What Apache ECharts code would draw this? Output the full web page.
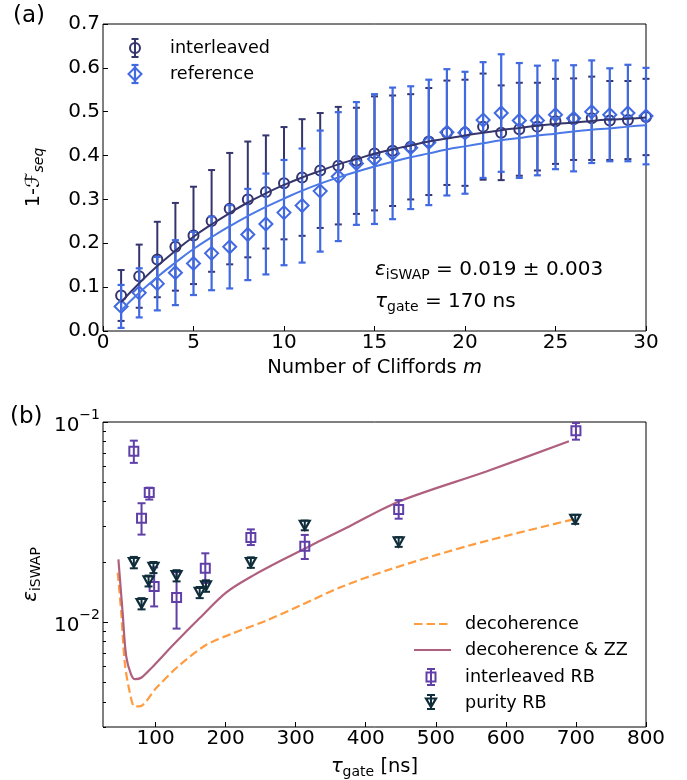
<!DOCTYPE html>
<html>
<head>
<meta charset="utf-8">
<script src="https://cdn.jsdelivr.net/npm/echarts@6/dist/echarts.min.js"></script>
<style>
  html, body { margin: 0; padding: 0; background: #fff; }
  #chart { width: 687px; height: 780px; }
</style>
</head>
<body>
<div id="chart"></div>
<script>
// ---- Panel (a): randomized benchmarking decay ----
const cliffords = [1, 2, 3, 4, 5, 6, 7, 8, 9, 10, 11, 12, 13, 14, 15,
                   16, 17, 18, 19, 20, 21, 22, 23, 24, 25, 26, 27, 28, 29, 30];
const interleavedMean = [0.081, 0.125, 0.163, 0.192, 0.218, 0.251, 0.279, 0.300, 0.317, 0.337,
                         0.350, 0.366, 0.377, 0.388, 0.405, 0.411, 0.420, 0.432, 0.452, 0.452,
                         0.466, 0.452, 0.460, 0.466, 0.478, 0.483, 0.485, 0.480, 0.481, 0.488];
const interleavedErr = [0.058, 0.072, 0.086, 0.100, 0.111, 0.116, 0.127, 0.132, 0.129, 0.128,
                        0.133, 0.131, 0.134, 0.121, 0.130, 0.126, 0.120, 0.122, 0.119, 0.121,
                        0.121, 0.108, 0.106, 0.100, 0.097, 0.093, 0.095, 0.090, 0.089, 0.087];
const referenceMean = [0.056, 0.087, 0.108, 0.133, 0.154, 0.177, 0.192, 0.220, 0.244, 0.270,
                       0.286, 0.319, 0.352, 0.382, 0.392, 0.405, 0.418, 0.430, 0.453, 0.452,
                       0.481, 0.497, 0.480, 0.480, 0.493, 0.485, 0.500, 0.493, 0.497, 0.490];
const referenceErr = [0.049, 0.056, 0.061, 0.074, 0.072, 0.084, 0.095, 0.104, 0.115, 0.120,
                      0.130, 0.138, 0.147, 0.140, 0.148, 0.150, 0.140, 0.143, 0.144, 0.139,
                      0.132, 0.134, 0.131, 0.125, 0.124, 0.121, 0.117, 0.106, 0.110, 0.110];
const interleavedFit = [0.066, 0.109, 0.148, 0.183, 0.215, 0.243, 0.269, 0.293, 0.314, 0.333,
                        0.350, 0.365, 0.380, 0.392, 0.404, 0.414, 0.423, 0.432, 0.439, 0.446,
                        0.452, 0.458, 0.463, 0.468, 0.472, 0.475, 0.479, 0.482, 0.484, 0.487];
const referenceFit = [0.047, 0.087, 0.123, 0.156, 0.187, 0.214, 0.239, 0.262, 0.283, 0.302,
                      0.320, 0.336, 0.350, 0.363, 0.375, 0.386, 0.396, 0.405, 0.414, 0.421,
                      0.428, 0.435, 0.440, 0.446, 0.450, 0.455, 0.459, 0.462, 0.466, 0.469];

// ---- Panel (b): gate error vs gate duration ----
const gateTimeIRB = [69, 80, 91, 98, 130, 171, 236, 313, 447, 700];
const errorIRB     = [0.0714, 0.0331, 0.0444, 0.0151, 0.0133, 0.0186, 0.0265, 0.0240, 0.0366, 0.0905];
const errorIRBLow  = [0.0625, 0.0274, 0.0410, 0.0120, 0.0093, 0.0157, 0.0243, 0.0207, 0.0329, 0.0816];
const errorIRBHigh = [0.0807, 0.0393, 0.0470, 0.0188, 0.0178, 0.0221, 0.0291, 0.0273, 0.0407, 0.0989];

const gateTimePurity = [69, 80, 90, 97, 130, 163, 172, 236, 313, 447, 699];
const errorPurity     = [0.0199, 0.0124, 0.0161, 0.0188, 0.0171, 0.0141, 0.0152, 0.0199, 0.0305, 0.0252, 0.0327];
const errorPurityLow  = [0.0186, 0.0116, 0.0151, 0.0176, 0.0160, 0.0132, 0.0142, 0.0187, 0.0288, 0.0238, 0.0310];
const errorPurityHigh = [0.0212, 0.0132, 0.0171, 0.0200, 0.0182, 0.0150, 0.0162, 0.0211, 0.0322, 0.0266, 0.0344];

const decoTime  = [46, 51, 56, 63, 70, 77, 101, 134, 172, 210, 258, 306, 363, 435, 554, 697];
const decoError = [0.0177, 0.0112, 0.0063, 0.0045, 0.0038, 0.0038, 0.0047, 0.0061, 0.0077, 0.0088,
                   0.0102, 0.0121, 0.0149, 0.0184, 0.0245, 0.0327];
const decoZZTime  = [47, 53, 58, 65, 71, 80, 96, 125, 163, 201, 239, 287, 335, 377, 449, 573, 690];
const decoZZError = [0.0206, 0.0112, 0.0068, 0.0055, 0.0052, 0.0053, 0.0060, 0.0077, 0.0105, 0.0141,
                     0.0171, 0.0210, 0.0255, 0.0302, 0.0403, 0.0568, 0.0801];

const xTicksB = [100, 200, 300, 400, 500, 600, 700, 800];
const yMajorB = [0.01, 0.1];
const yMinorB = [0.003, 0.004, 0.005, 0.006, 0.007, 0.008, 0.009,
                 0.02, 0.03, 0.04, 0.05, 0.06, 0.07, 0.08, 0.09];

// ---- styling ----
const FONT = 'DejaVu Sans';
const C_INT = '#35356e';
const C_REF = '#4169e1';
const C_REF_FIT = '#4a78e6';
const C_IRB = '#6040a8';
const C_PUR = '#102d3b';
const C_DECO = '#ff9c40';
const C_ZZ = '#b0607f';

function errorBars(color, cap, width) {
  return function (params, api) {
    const x = api.value(0);
    const lo = api.coord([x, api.value(1)]);
    const hi = api.coord([x, api.value(2)]);
    const st = { stroke: color, lineWidth: width };
    return {
      type: 'group',
      children: [
        { type: 'line', shape: { x1: lo[0], y1: lo[1], x2: hi[0], y2: hi[1] }, style: st },
        { type: 'line', shape: { x1: lo[0] - cap, y1: lo[1], x2: lo[0] + cap, y2: lo[1] }, style: st },
        { type: 'line', shape: { x1: hi[0] - cap, y1: hi[1], x2: hi[0] + cap, y2: hi[1] }, style: st }
      ]
    };
  };
}

// rich-text pieces: main text sits at the top of the line box, subscripts at its bottom
function mainTok(size, italic) {
  return { fontFamily: FONT, fontSize: size, fontStyle: italic ? 'italic' : 'normal', color: '#000', fill: '#000', lineHeight: 22, verticalAlign: 'top' };
}
function subTok(italic) {
  return { fontFamily: FONT, fontSize: 14, fontStyle: italic ? 'italic' : 'normal', color: '#000', fill: '#000', lineHeight: 22, verticalAlign: 'bottom' };
}

const tickStyle = { inside: true, length: 5, lineStyle: { color: '#000', width: 1 } };
const labelBase = { color: '#000', fontFamily: FONT, fontSize: 20 };

const supRich = {
  b: { fontFamily: FONT, fontSize: 20, color: '#000', lineHeight: 28, verticalAlign: 'bottom' },
  s: { fontFamily: FONT, fontSize: 14, color: '#000', lineHeight: 14, verticalAlign: 'top' }
};

const chart = echarts.init(document.getElementById('chart'), null, { renderer: 'canvas' });

chart.setOption({
  animation: false,
  backgroundColor: '#fff',
  textStyle: { fontFamily: FONT },
  grid: [
    { left: 103, top: 24, width: 543, height: 307, show: true, borderColor: '#000', borderWidth: 1, backgroundColor: 'transparent' },
    { left: 103, top: 422, width: 543, height: 306, show: true, borderColor: '#000', borderWidth: 1, backgroundColor: 'transparent' }
  ],
  xAxis: [
    {
      type: 'value', gridIndex: 0, min: 0, max: 30, interval: 5,
      axisLine: { show: false }, axisTick: tickStyle, splitLine: { show: false },
      axisLabel: Object.assign({ margin: 2 }, labelBase),
      name: 'Number of Cliffords {i|m}', nameLocation: 'middle', nameGap: 27,
      nameTextStyle: {
        fontFamily: FONT, fontSize: 19.5, color: '#000',
        rich: { i: { fontFamily: FONT, fontSize: 19.5, fontStyle: 'italic', color: '#000' } }
      }
    },
    {
      type: 'value', gridIndex: 1, min: 25, max: 800,
      axisLine: { show: false },
      axisTick: Object.assign({ customValues: xTicksB }, tickStyle),
      splitLine: { show: false },
      axisLabel: Object.assign({ margin: 2, customValues: xTicksB }, labelBase),
      name: '{t|τ}{s|gate}{n| [ns]}', nameLocation: 'middle', nameGap: 30,
      nameTextStyle: {
        fontFamily: FONT, fontSize: 19.5, color: '#000',
        rich: { t: mainTok(19.5, true), s: subTok(false), n: mainTok(19.5, false) }
      }
    }
  ],
  yAxis: [
    {
      type: 'value', gridIndex: 0, min: 0, max: 0.7, interval: 0.1,
      axisLine: { show: false }, axisTick: tickStyle, splitLine: { show: false },
      axisLabel: Object.assign({ margin: 3, formatter: v => v.toFixed(1) }, labelBase),
      name: '{n|1-}{f|ℱ}{s|seq}', nameLocation: 'middle', nameGap: 57,
      nameTextStyle: {
        fontFamily: FONT, fontSize: 19.5, color: '#000',
        rich: { n: mainTok(19.5, false), f: mainTok(19.5, true), s: subTok(true) }
      }
    },
    {
      type: 'log', logBase: 10, gridIndex: 1, min: 0.003, max: 0.1, position: 'left',
      axisLine: { show: false },
      axisTick: Object.assign({ customValues: yMajorB }, tickStyle),
      minorTick: { show: false },
      splitLine: { show: false },
      axisLabel: {
        margin: 3, customValues: yMajorB,
        formatter: v => '{b|10}{s|−' + Math.round(-Math.log10(v)) + '}',
        rich: supRich
      },
      name: '{e|ε}{s|iSWAP}', nameLocation: 'middle', nameGap: 50,
      nameTextStyle: {
        fontFamily: FONT, fontSize: 19.5, color: '#000',
        rich: { e: mainTok(20, true), s: subTok(false) }
      }
    },
    {
      type: 'log', logBase: 10, gridIndex: 1, min: 0.003, max: 0.1, position: 'left',
      axisLine: { show: false },
      axisTick: { inside: true, length: 3, customValues: yMinorB, lineStyle: { color: '#000', width: 1 } },
      minorTick: { show: false },
      splitLine: { show: false },
      axisLabel: { show: false }
    }
  ],
  series: [
    // panel (a)
    {
      type: 'custom', xAxisIndex: 0, yAxisIndex: 0, z: 2,
      renderItem: errorBars(C_INT, 3.5, 2),
      encode: { x: 0, y: [1, 2] },
      data: cliffords.map((m, i) => [m, interleavedMean[i] - interleavedErr[i], interleavedMean[i] + interleavedErr[i]])
    },
    {
      type: 'scatter', xAxisIndex: 0, yAxisIndex: 0, z: 3,
      symbol: 'circle', symbolSize: 10,
      itemStyle: { color: 'rgba(0,0,0,0)', borderColor: C_INT, borderWidth: 2, opacity: 1 },
      data: cliffords.map((m, i) => [m, interleavedMean[i]])
    },
    {
      type: 'custom', xAxisIndex: 0, yAxisIndex: 0, z: 4,
      renderItem: errorBars(C_REF, 3.5, 2.2),
      encode: { x: 0, y: [1, 2] },
      data: cliffords.map((m, i) => [m, referenceMean[i] - referenceErr[i], referenceMean[i] + referenceErr[i]])
    },
    {
      type: 'scatter', xAxisIndex: 0, yAxisIndex: 0, z: 5,
      symbol: 'diamond', symbolSize: 13,
      itemStyle: { color: 'rgba(0,0,0,0)', borderColor: C_REF, borderWidth: 2, opacity: 1 },
      data: cliffords.map((m, i) => [m, referenceMean[i]])
    },
    {
      type: 'line', xAxisIndex: 0, yAxisIndex: 0, z: 6, smooth: true, showSymbol: false,
      lineStyle: { color: C_INT, width: 2 },
      data: cliffords.map((m, i) => [m, interleavedFit[i]])
    },
    {
      type: 'line', xAxisIndex: 0, yAxisIndex: 0, z: 6, smooth: true, showSymbol: false,
      lineStyle: { color: C_REF_FIT, width: 2 },
      data: cliffords.map((m, i) => [m, referenceFit[i]])
    },
    // panel (b)
    {
      type: 'line', xAxisIndex: 1, yAxisIndex: 1, z: 2, showSymbol: false, smooth: 0.3,
      lineStyle: { color: C_DECO, width: 2.2, type: [8.5, 4] },
      data: decoTime.map((t, i) => [t, decoError[i]])
    },
    {
      type: 'line', xAxisIndex: 1, yAxisIndex: 1, z: 2, showSymbol: false, smooth: 0.3,
      lineStyle: { color: C_ZZ, width: 2.2 },
      data: decoZZTime.map((t, i) => [t, decoZZError[i]])
    },
    {
      type: 'custom', xAxisIndex: 1, yAxisIndex: 1, z: 3,
      renderItem: errorBars(C_IRB, 4, 2),
      encode: { x: 0, y: [1, 2] },
      data: gateTimeIRB.map((t, i) => [t, errorIRBLow[i], errorIRBHigh[i]])
    },
    {
      type: 'scatter', xAxisIndex: 1, yAxisIndex: 1, z: 4,
      symbol: 'rect', symbolSize: 9,
      itemStyle: { color: 'rgba(0,0,0,0)', borderColor: C_IRB, borderWidth: 2, opacity: 1 },
      data: gateTimeIRB.map((t, i) => [t, errorIRB[i]])
    },
    {
      type: 'custom', xAxisIndex: 1, yAxisIndex: 1, z: 5,
      renderItem: errorBars(C_PUR, 4, 2),
      encode: { x: 0, y: [1, 2] },
      data: gateTimePurity.map((t, i) => [t, errorPurityLow[i], errorPurityHigh[i]])
    },
    {
      type: 'scatter', xAxisIndex: 1, yAxisIndex: 1, z: 6,
      symbol: 'triangle', symbolRotate: 180, symbolSize: [10, 9],
      itemStyle: { color: 'rgba(0,0,0,0)', borderColor: C_PUR, borderWidth: 2.2, opacity: 1 },
      data: gateTimePurity.map((t, i) => [t, errorPurity[i]])
    }
  ],
  graphic: [
    // panel tags
    { type: 'text', x: 13, y: 5, style: { text: '(a)', fontFamily: FONT, fontSize: 23, fill: '#000' } },
    { type: 'text', x: 10, y: 406, style: { text: '(b)', fontFamily: FONT, fontSize: 23, fill: '#000' } },
    // fit results annotation
    {
      type: 'text', x: 375, y: 271,
      style: {
        text: '{e|ε}{s|iSWAP}{n| = 0.019 ± 0.003}',
        verticalAlign: 'middle',
        rich: { e: mainTok(20, true), s: subTok(false), n: mainTok(20, false) }
      }
    },
    {
      type: 'text', x: 375, y: 303,
      style: {
        text: '{e|τ}{s|gate}{n| = 170 ns}',
        verticalAlign: 'middle',
        rich: { e: mainTok(20, true), s: subTok(false), n: mainTok(20, false) }
      }
    },
    // legend, panel (a)
    {
      type: 'group', x: 135, y: 48,
      children: [
        { type: 'line', shape: { x1: 0, y1: -9, x2: 0, y2: 9 }, style: { stroke: C_INT, lineWidth: 2 } },
        { type: 'line', shape: { x1: -3.5, y1: -9, x2: 3.5, y2: -9 }, style: { stroke: C_INT, lineWidth: 2 } },
        { type: 'line', shape: { x1: -3.5, y1: 9, x2: 3.5, y2: 9 }, style: { stroke: C_INT, lineWidth: 2 } },
        { type: 'circle', shape: { cx: 0, cy: 0, r: 5 }, style: { fill: 'none', stroke: C_INT, lineWidth: 2 } }
      ]
    },
    {
      type: 'group', x: 135, y: 74,
      children: [
        { type: 'line', shape: { x1: 0, y1: -9, x2: 0, y2: 9 }, style: { stroke: C_REF, lineWidth: 2.2 } },
        { type: 'line', shape: { x1: -3.5, y1: -9, x2: 3.5, y2: -9 }, style: { stroke: C_REF, lineWidth: 2.2 } },
        { type: 'line', shape: { x1: -3.5, y1: 9, x2: 3.5, y2: 9 }, style: { stroke: C_REF, lineWidth: 2.2 } },
        { type: 'polygon', shape: { points: [[0, -6.5], [6.5, 0], [0, 6.5], [-6.5, 0]] }, style: { fill: 'none', stroke: C_REF, lineWidth: 2 } }
      ]
    },
    { type: 'text', x: 170, y: 48, style: { text: 'interleaved', fontFamily: FONT, fontSize: 17.6, fill: '#000', verticalAlign: 'middle' } },
    { type: 'text', x: 170, y: 74, style: { text: 'reference', fontFamily: FONT, fontSize: 17.6, fill: '#000', verticalAlign: 'middle' } },
    // legend, panel (b)
    { type: 'line', shape: { x1: 414, y1: 624, x2: 451, y2: 624 }, style: { stroke: C_DECO, lineWidth: 2.2, lineDash: [8.5, 4] } },
    { type: 'line', shape: { x1: 414, y1: 650, x2: 451, y2: 650 }, style: { stroke: C_ZZ, lineWidth: 2.2 } },
    {
      type: 'group', x: 431, y: 677,
      children: [
        { type: 'line', shape: { x1: 0, y1: -8, x2: 0, y2: 8 }, style: { stroke: C_IRB, lineWidth: 2 } },
        { type: 'line', shape: { x1: -4, y1: -8, x2: 4, y2: -8 }, style: { stroke: C_IRB, lineWidth: 2 } },
        { type: 'line', shape: { x1: -4, y1: 8, x2: 4, y2: 8 }, style: { stroke: C_IRB, lineWidth: 2 } },
        { type: 'rect', shape: { x: -4.5, y: -4.5, width: 9, height: 9 }, style: { fill: 'none', stroke: C_IRB, lineWidth: 2 } }
      ]
    },
    {
      type: 'group', x: 431, y: 702,
      children: [
        { type: 'line', shape: { x1: 0, y1: -7, x2: 0, y2: 7 }, style: { stroke: C_PUR, lineWidth: 2 } },
        { type: 'line', shape: { x1: -4, y1: -7, x2: 4, y2: -7 }, style: { stroke: C_PUR, lineWidth: 2 } },
        { type: 'line', shape: { x1: -4, y1: 7, x2: 4, y2: 7 }, style: { stroke: C_PUR, lineWidth: 2 } },
        { type: 'polygon', shape: { points: [[-5, -3.5], [5, -3.5], [0, 5]] }, style: { fill: 'none', stroke: C_PUR, lineWidth: 2.2 } }
      ]
    },
    { type: 'text', x: 465, y: 624, style: { text: 'decoherence', fontFamily: FONT, fontSize: 17.6, fill: '#000', verticalAlign: 'middle' } },
    { type: 'text', x: 465, y: 650, style: { text: 'decoherence & ZZ', fontFamily: FONT, fontSize: 17.6, fill: '#000', verticalAlign: 'middle' } },
    { type: 'text', x: 465, y: 677, style: { text: 'interleaved RB', fontFamily: FONT, fontSize: 17.6, fill: '#000', verticalAlign: 'middle' } },
    { type: 'text', x: 465, y: 703, style: { text: 'purity RB', fontFamily: FONT, fontSize: 17.6, fill: '#000', verticalAlign: 'middle' } }
  ]
});
</script>
</body>
</html>
